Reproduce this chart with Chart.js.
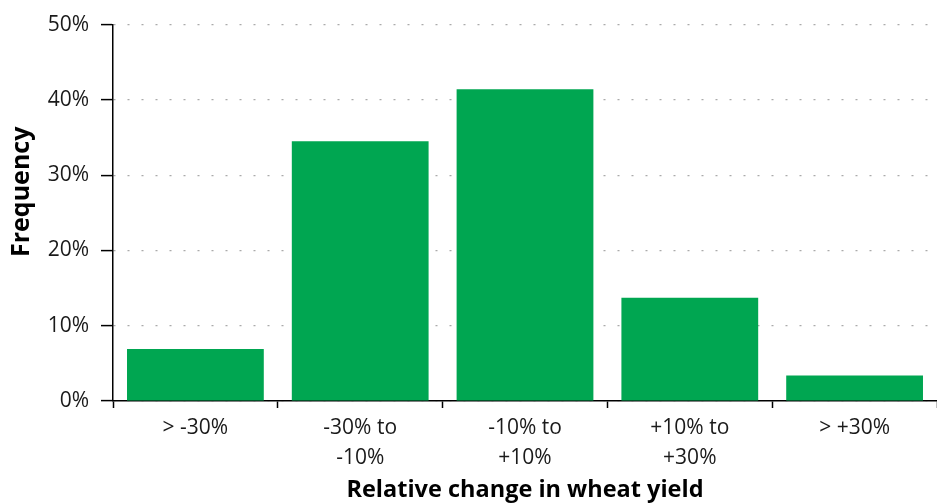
<!DOCTYPE html>
<html>
<head>
<meta charset="utf-8">
<script src="https://cdn.jsdelivr.net/npm/chart.js@4.4.0/dist/chart.umd.min.js"></script>
<style>
html,body{margin:0;padding:0;background:#fff;}
#wrap{width:937px;height:504px;position:relative;}
</style>
</head>
<body>
<div id="wrap"><canvas id="c" width="937" height="504"></canvas></div>
<script>
const categories = [["> -30%"], ["-30% to", "-10%"], ["-10% to", "+10%"], ["+10% to", "+30%"], ["> +30%"]];
const frequency = [6.9, 34.5, 41.4, 13.7, 3.4];
const yTicks = [0, 10, 20, 30, 40, 50];
const xTitle = "Relative change in wheat yield";
const yTitle = "Frequency";

const FONT = "'Open Sans', sans-serif";

const yTitlePlugin = {
  id: 'yTitlePlugin',
  afterDraw(chart) {
    const ctx = chart.ctx;
    const area = chart.chartArea;
    ctx.save();
    ctx.translate(22, (area.top + area.bottom) / 2 - 21);
    ctx.rotate(-Math.PI / 2);
    ctx.font = "bold 25px " + FONT;
    ctx.fillStyle = '#000';
    ctx.textAlign = 'center';
    ctx.textBaseline = 'middle';
    ctx.fillText(yTitle, 0, 0);
    ctx.restore();
  }
};

new Chart(document.getElementById('c'), {
  type: 'bar',
  data: {
    labels: categories,
    datasets: [{
      data: frequency,
      backgroundColor: 'rgb(0,166,81)',
      borderWidth: 0,
      categoryPercentage: 1,
      barPercentage: 0.83
    }]
  },
  plugins: [yTitlePlugin],
  options: {
    responsive: false,
    animation: false,
    devicePixelRatio: 1,
    layout: { padding: { left: 0, right: 0, top: 24, bottom: 0 } },
    plugins: { legend: { display: false }, tooltip: { enabled: false } },
    scales: {
      x: {
        offset: true,
        grid: { offset: true, drawOnChartArea: false, drawTicks: true, tickLength: 7, tickColor: '#000', tickWidth: 1.5 },
        border: { display: true, color: '#000', width: 1.5 },
        ticks: { color: '#1a1a1a', font: { family: FONT, size: 21, lineHeight: 1.42 }, padding: 5, maxRotation: 0, autoSkip: false },
        title: { display: true, text: xTitle, color: '#000', font: { family: FONT, size: 23.5, weight: 'bold', lineHeight: 1.2 }, padding: { top: 0, bottom: 0 } },
        afterFit: s => { s.height = 103; }
      },
      y: {
        min: 0, max: 50,
        afterBuildTicks: s => { s.ticks = yTicks.map(v => ({ value: v })); },
        grid: { color: '#aaa', lineWidth: 1.2, drawTicks: true, tickLength: 12, tickColor: '#000', tickWidth: 1.5, tickBorderDash: [] },
        border: { display: true, color: '#000', width: 1.5, dash: [2, 12] },
        ticks: { color: '#1a1a1a', font: { family: FONT, size: 21 }, padding: 12, callback: v => v + '%' },
        title: { display: false, text: yTitle },
        afterFit: s => { s.width = 113; }
      }
    }
  }
});
</script>
</body>
</html>
